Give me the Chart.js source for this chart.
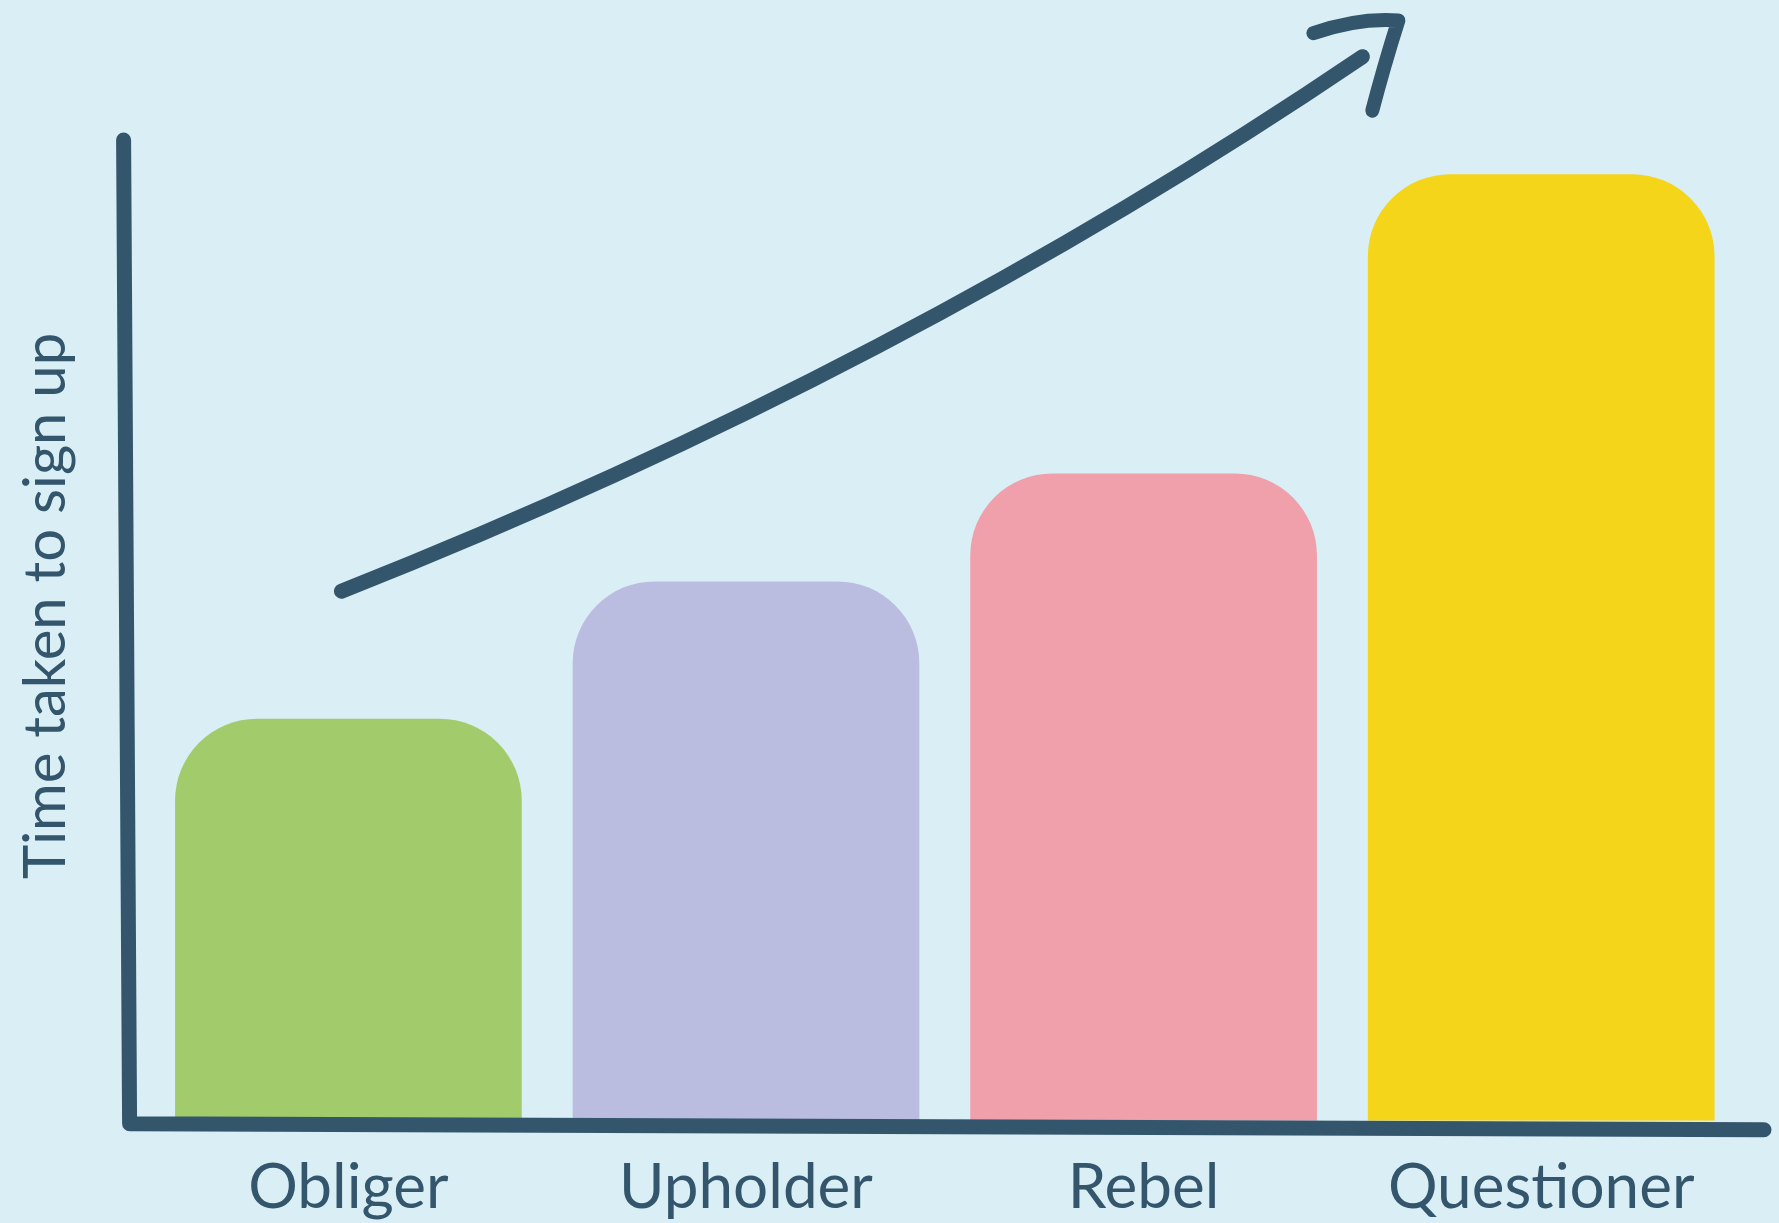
<!DOCTYPE html>
<html>
<head>
<meta charset="utf-8">
<script src="https://cdn.jsdelivr.net/npm/chart.js@4.4.1/dist/chart.umd.min.js"></script>
<style>
  html, body { margin: 0; padding: 0; background: #daeef5; }
  canvas { display: block; }
</style>
</head>
<body>
<canvas id="signupChart" width="1779" height="1223"></canvas>
<script>
// data
const categories = ['Obliger', 'Upholder', 'Rebel', 'Questioner'];
const signupTime = [41, 55, 66, 96.5];
const barColors = ['#a2cb6b', '#bbbde0', '#f0a0aa', '#f5d51a'];
const yTitle = 'Time taken to sign up';

const ink = '#34566c';
const fontFamily = 'Lato, "Open Sans", sans-serif';

// background + hand-drawn axes + trend arrow
const decor = {
    id: 'decor',
    beforeDraw(chart) {
        const c = chart.ctx;
        c.save();
        c.fillStyle = '#daeef5';
        c.fillRect(0, 0, chart.width, chart.height);
        c.restore();
    },
    afterDatasetsDraw(chart) {
        const c = chart.ctx;
        const a = chart.chartArea;
        const y = chart.scales.y;
        const fx = f => a.left + f * (a.right - a.left);

        c.save();
        c.strokeStyle = ink;
        c.lineCap = 'round';
        c.lineJoin = 'round';
        c.lineWidth = 15;

        // axes
        const base = y.getPixelForValue(0);
        c.beginPath();
        c.moveTo(a.left - 26, y.getPixelForValue(100));
        c.lineTo(a.left - 20, base + 3);
        c.lineTo(a.right + 24, base + 9);
        c.stroke();

        // arrow shaft
        c.beginPath();
        c.moveTo(fx(0.1206), y.getPixelForValue(54.0));
        c.quadraticCurveTo(fx(0.4724), y.getPixelForValue(76.6), fx(0.7626), y.getPixelForValue(108.5));
        c.stroke();

        // arrow head
        c.lineWidth = 14;
        c.beginPath();
        c.moveTo(fx(0.7318), y.getPixelForValue(110.9));
        c.quadraticCurveTo(fx(0.7600), y.getPixelForValue(112.5), fx(0.7852), y.getPixelForValue(112.2));
        c.quadraticCurveTo(fx(0.7760), y.getPixelForValue(107.5), fx(0.7688), y.getPixelForValue(103.0));
        c.stroke();
        c.restore();
    }
};

new Chart(document.getElementById('signupChart'), {
    type: 'bar',
    data: {
        labels: categories,
        datasets: [{
            data: signupTime,
            backgroundColor: barColors,
            borderWidth: 0,
            borderSkipped: 'start',
            borderRadius: { topLeft: 82, topRight: 82, bottomLeft: 0, bottomRight: 0 },
            barPercentage: 0.872,
            categoryPercentage: 1
        }]
    },
    options: {
        responsive: false,
        animation: false,
        layout: { padding: { top: 91, right: 39, left: 0, bottom: -32 } },
        plugins: {
            legend: { display: false },
            tooltip: { enabled: false }
        },
        scales: {
            x: {
                grid: { display: false, drawTicks: false },
                border: { display: false },
                ticks: {
                    color: ink,
                    padding: 33,
                    font: { family: fontFamily, size: 62, lineHeight: 1.1 }
                }
            },
            y: {
                min: 0,
                max: 105,
                grid: { display: false, drawTicks: false },
                border: { display: false },
                ticks: { display: false },
                title: {
                    display: true,
                    text: yTitle,
                    color: ink,
                    padding: { top: 11, bottom: 69 },
                    font: { family: fontFamily, size: 58, lineHeight: 1.2 }
                }
            }
        }
    },
    plugins: [decor]
});
</script>
</body>
</html>
